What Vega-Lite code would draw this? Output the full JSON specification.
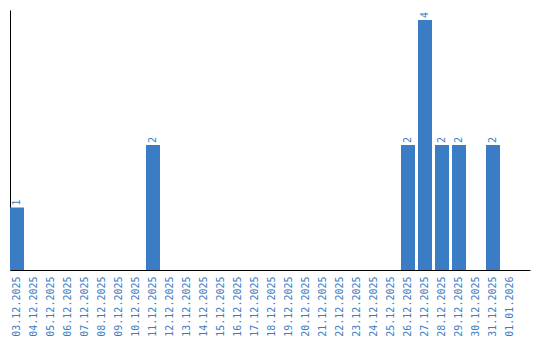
{
  "$schema": "https://vega.github.io/schema/vega-lite/v6.json",
  "width": 520,
  "height": 260,
  "autosize": "none",
  "padding": {"left": 10, "top": 10, "right": 10, "bottom": 70},
  "background": "white",
  "config": {"view": {"stroke": null}},
  "data": {"values": [
    {"d": "03.12.2025", "v": 1},
    {"d": "04.12.2025", "v": 0},
    {"d": "05.12.2025", "v": 0},
    {"d": "06.12.2025", "v": 0},
    {"d": "07.12.2025", "v": 0},
    {"d": "08.12.2025", "v": 0},
    {"d": "09.12.2025", "v": 0},
    {"d": "10.12.2025", "v": 0},
    {"d": "11.12.2025", "v": 2},
    {"d": "12.12.2025", "v": 0},
    {"d": "13.12.2025", "v": 0},
    {"d": "14.12.2025", "v": 0},
    {"d": "15.12.2025", "v": 0},
    {"d": "16.12.2025", "v": 0},
    {"d": "17.12.2025", "v": 0},
    {"d": "18.12.2025", "v": 0},
    {"d": "19.12.2025", "v": 0},
    {"d": "20.12.2025", "v": 0},
    {"d": "21.12.2025", "v": 0},
    {"d": "22.12.2025", "v": 0},
    {"d": "23.12.2025", "v": 0},
    {"d": "24.12.2025", "v": 0},
    {"d": "25.12.2025", "v": 0},
    {"d": "26.12.2025", "v": 2},
    {"d": "27.12.2025", "v": 4},
    {"d": "28.12.2025", "v": 2},
    {"d": "29.12.2025", "v": 2},
    {"d": "30.12.2025", "v": 0},
    {"d": "31.12.2025", "v": 2},
    {"d": "01.01.2026", "v": 0}
  ]},
  "encoding": {
    "x": {"field": "d", "type": "nominal", "sort": null,
      "scale": {"paddingInner": 0.176, "paddingOuter": 0.382, "align": 0},
      "axis": {"title": null, "labelAngle": -90, "labelAlign": "right", "labelBaseline": "middle",
        "labelFont": "DejaVu Sans Mono", "labelFontSize": 10, "labelColor": "#3b7dc4",
        "labelPadding": 6, "ticks": false, "domainColor": "black", "domainWidth": 1, "grid": false}},
    "y": {"field": "v", "type": "quantitative",
      "scale": {"domain": [0, 4.16], "nice": false},
      "axis": {"title": null, "labels": false, "ticks": false, "grid": false, "domainColor": "black", "domainWidth": 1}}
  },
  "layer": [
    {"mark": {"type": "bar", "color": "#3b7dc4"}},
    {"transform": [{"filter": "datum.v > 0"}],
     "mark": {"type": "text", "angle": -90, "align": "left", "baseline": "middle", "dx": 2,
       "font": "DejaVu Sans Mono", "fontSize": 10, "color": "#3b7dc4"},
     "encoding": {"text": {"field": "v", "type": "quantitative"}}}
  ]
}
